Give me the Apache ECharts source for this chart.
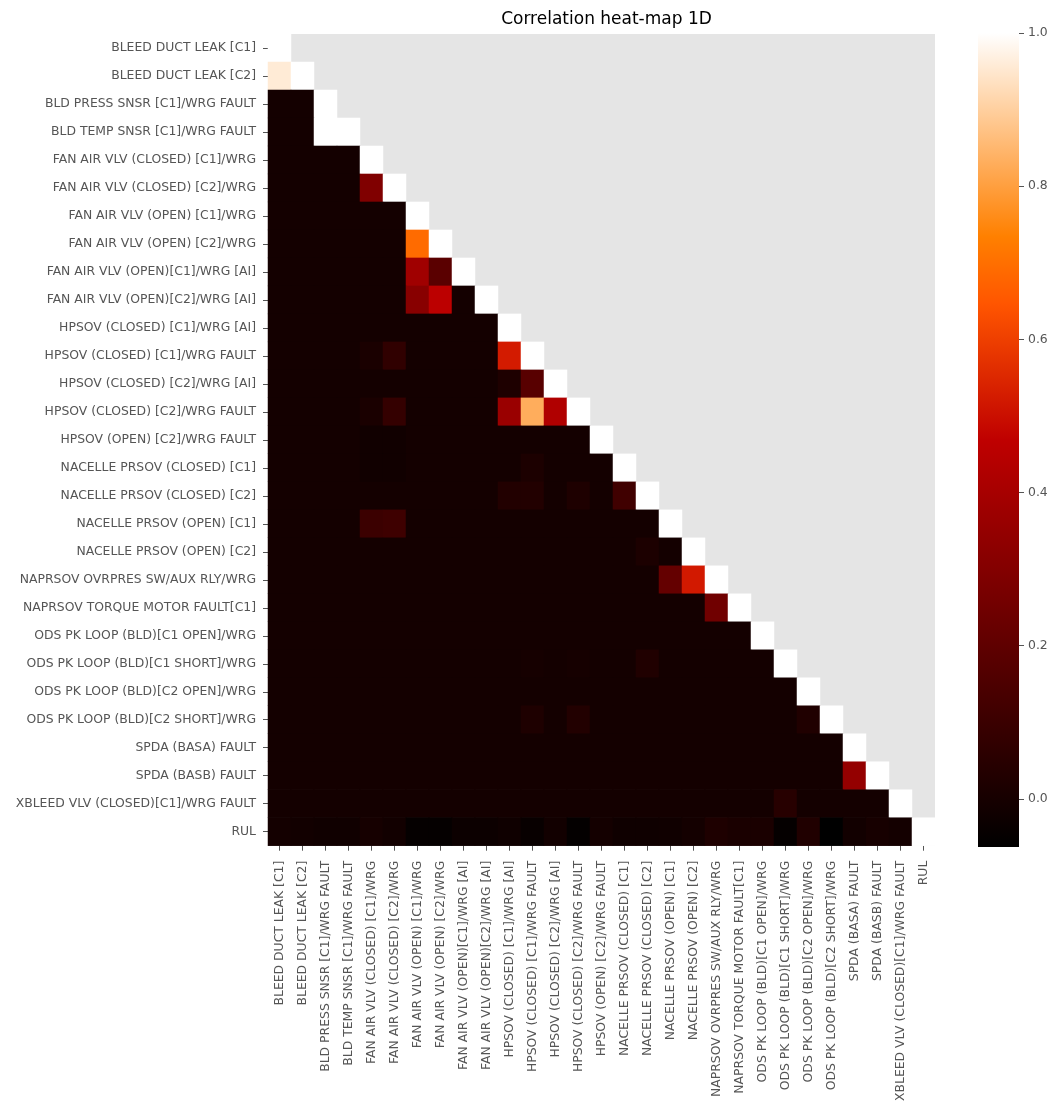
<!DOCTYPE html>
<html>
<head>
<meta charset="utf-8">
<title>Correlation heat-map 1D</title>
<script src="https://cdn.jsdelivr.net/npm/echarts@6/dist/echarts.min.js"></script>
<style>
  html, body { margin: 0; padding: 0; background: #ffffff; }
  #chart { width: 1051px; height: 1104px; }
</style>
</head>
<body>
<div id="chart"></div>
<script>
// Fault labels (rows and columns share the same order)
const categories = [
  'BLEED DUCT LEAK [C1]',
  'BLEED DUCT LEAK [C2]',
  'BLD PRESS SNSR [C1]/WRG FAULT',
  'BLD TEMP SNSR [C1]/WRG FAULT',
  'FAN AIR VLV (CLOSED) [C1]/WRG',
  'FAN AIR VLV (CLOSED) [C2]/WRG',
  'FAN AIR VLV (OPEN) [C1]/WRG',
  'FAN AIR VLV (OPEN) [C2]/WRG',
  'FAN AIR VLV (OPEN)[C1]/WRG [AI]',
  'FAN AIR VLV (OPEN)[C2]/WRG [AI]',
  'HPSOV (CLOSED) [C1]/WRG [AI]',
  'HPSOV (CLOSED) [C1]/WRG FAULT',
  'HPSOV (CLOSED) [C2]/WRG [AI]',
  'HPSOV (CLOSED) [C2]/WRG FAULT',
  'HPSOV (OPEN) [C2]/WRG FAULT',
  'NACELLE PRSOV (CLOSED) [C1]',
  'NACELLE PRSOV (CLOSED) [C2]',
  'NACELLE PRSOV (OPEN) [C1]',
  'NACELLE PRSOV (OPEN) [C2]',
  'NAPRSOV OVRPRES SW/AUX RLY/WRG',
  'NAPRSOV TORQUE MOTOR FAULT[C1]',
  'ODS PK LOOP (BLD)[C1 OPEN]/WRG',
  'ODS PK LOOP (BLD)[C1 SHORT]/WRG',
  'ODS PK LOOP (BLD)[C2 OPEN]/WRG',
  'ODS PK LOOP (BLD)[C2 SHORT]/WRG',
  'SPDA (BASA) FAULT',
  'SPDA (BASB) FAULT',
  'XBLEED VLV (CLOSED)[C1]/WRG FAULT',
  'RUL'
];

// Lower triangle of the correlation matrix, row i holds columns 0..i
const corrRows = [
  [1.000],
  [0.957, 1.000],
  [-0.007, -0.007, 1.000],
  [-0.007, -0.007, 1.000, 1.000],
  [-0.007, -0.007, -0.007, -0.007, 1.000],
  [-0.007, -0.007, -0.007, -0.007, 0.290, 1.000],
  [-0.007, -0.007, -0.007, -0.007, -0.007, -0.007, 1.000],
  [-0.007, -0.007, -0.007, -0.007, -0.007, -0.007, 0.690, 1.000],
  [-0.007, -0.007, -0.007, -0.007, -0.007, -0.007, 0.382, 0.187, 1.000],
  [-0.007, -0.007, -0.007, -0.007, -0.007, -0.007, 0.315, 0.459, -0.007, 1.000],
  [-0.007, -0.007, -0.007, -0.007, -0.007, -0.007, -0.007, -0.007, -0.007, -0.007, 1.000],
  [-0.007, -0.007, -0.007, -0.007, 0.010, 0.070, -0.007, -0.007, -0.007, -0.007, 0.524, 1.000],
  [-0.007, -0.007, -0.007, -0.007, -0.007, -0.007, -0.007, -0.007, -0.007, -0.007, 0.020, 0.181, 1.000],
  [-0.007, -0.007, -0.007, -0.007, 0.010, 0.080, -0.007, -0.007, -0.007, -0.007, 0.365, 0.830, 0.426, 1.000],
  [-0.007, -0.007, -0.007, -0.007, -0.015, -0.015, -0.007, -0.007, -0.007, -0.007, -0.007, -0.007, -0.007, -0.007, 1.000],
  [-0.007, -0.007, -0.007, -0.007, -0.015, -0.015, -0.007, -0.007, -0.007, -0.007, -0.007, 0.015, -0.007, -0.007, -0.007, 1.000],
  [-0.007, -0.007, -0.007, -0.007, -0.007, -0.007, -0.007, -0.007, -0.007, -0.007, 0.030, 0.030, -0.007, 0.020, -0.007, 0.115, 1.000],
  [-0.007, -0.007, -0.007, -0.007, 0.100, 0.110, -0.007, -0.007, -0.007, -0.007, -0.007, -0.007, -0.007, -0.007, -0.007, -0.007, -0.007, 1.000],
  [-0.007, -0.007, -0.007, -0.007, -0.007, -0.007, -0.007, -0.007, -0.007, -0.007, -0.007, -0.007, -0.007, -0.007, -0.007, -0.007, 0.015, -0.007, 1.000],
  [-0.007, -0.007, -0.007, -0.007, -0.007, -0.007, -0.007, -0.007, -0.007, -0.007, -0.007, -0.007, -0.007, -0.007, -0.007, -0.007, -0.007, 0.215, 0.520, 1.000],
  [-0.007, -0.007, -0.007, -0.007, -0.007, -0.007, -0.007, -0.007, -0.007, -0.007, -0.007, -0.007, -0.007, -0.007, -0.007, -0.007, -0.007, -0.007, -0.007, 0.248, 1.000],
  [-0.007, -0.007, -0.007, -0.007, -0.007, -0.007, -0.007, -0.007, -0.007, -0.007, -0.007, -0.007, -0.007, -0.007, -0.007, -0.007, -0.007, -0.007, -0.007, -0.007, -0.007, 1.000],
  [-0.007, -0.007, -0.007, -0.007, -0.007, -0.007, -0.007, -0.007, -0.007, -0.007, -0.007, -0.002, -0.007, -0.002, -0.007, -0.007, 0.026, -0.007, -0.007, -0.007, -0.007, -0.007, 1.000],
  [-0.007, -0.007, -0.007, -0.007, -0.007, -0.007, -0.007, -0.007, -0.007, -0.007, -0.007, -0.007, -0.007, -0.007, -0.007, -0.007, -0.007, -0.007, -0.007, -0.007, -0.007, -0.007, -0.007, 1.000],
  [-0.007, -0.007, -0.007, -0.007, -0.007, -0.007, -0.007, -0.007, -0.007, -0.007, -0.007, 0.020, -0.007, 0.030, -0.007, -0.007, -0.007, -0.007, -0.007, -0.007, -0.007, -0.007, -0.007, 0.026, 1.000],
  [-0.007, -0.007, -0.007, -0.007, -0.007, -0.007, -0.007, -0.007, -0.007, -0.007, -0.007, -0.007, -0.007, -0.007, -0.007, -0.007, -0.007, -0.007, -0.007, -0.007, -0.007, -0.007, -0.007, -0.007, -0.007, 1.000],
  [-0.007, -0.007, -0.007, -0.007, -0.007, -0.007, -0.007, -0.007, -0.007, -0.007, -0.007, -0.007, -0.007, -0.007, -0.007, -0.007, -0.007, -0.007, -0.007, -0.007, -0.007, -0.007, -0.007, -0.007, -0.007, 0.348, 1.000],
  [-0.007, -0.007, -0.007, -0.007, -0.007, -0.007, -0.007, -0.007, -0.007, -0.007, -0.007, -0.007, -0.007, -0.007, -0.007, -0.007, -0.007, -0.007, -0.007, -0.007, -0.007, -0.007, 0.045, -0.007, -0.007, -0.007, -0.007, 1.000],
  [-0.007, -0.013, -0.020, -0.020, -0.003, -0.013, -0.050, -0.050, -0.030, -0.030, -0.022, -0.040, -0.013, -0.052, -0.007, -0.022, -0.022, -0.018, -0.007, 0.020, 0.010, 0.010, -0.048, 0.026, -0.063, -0.013, 0.000, -0.007, 1.000]
];

// Colour bar range and tick labels
const colorMin = -0.063;
const colorMax = 1.0;
const colorbarTicks = [0.0, 0.2, 0.4, 0.6, 0.8, 1.0];

// gist_heat colour ramp sampled at 13 evenly spaced stops
const heatStops = [
  '#000000', '#200000', '#400000', '#600000', '#800000', '#9f0000', '#bf0000',
  '#df2b00', '#ff5500', '#ff8000', '#ffaa55', '#ffd5aa', '#ffffff'
];

const cells = [];
corrRows.forEach((row, i) => {
  row.forEach((v, j) => cells.push([j, i, v]));
});

const FONT = 'DejaVu Sans';
const LABEL_COLOR = '#555555';
const LABEL_SIZE = 12.4;

// whole-pixel cell sizes keep neighbouring cells free of seams
const plot = { left: 268, top: 34, width: 667, height: 812 };
const bar = { left: 978, top: 33, width: 41, height: 814 };

// colour bar fill: same ramp, bottom (min) to top (max)
const barGradient = new echarts.graphic.LinearGradient(0, 1, 0, 0,
  heatStops.map((c, i) => ({ offset: i / (heatStops.length - 1), color: c })));

const chart = echarts.init(document.getElementById('chart'), null, { renderer: 'canvas' });

chart.setOption({
  backgroundColor: '#ffffff',
  animation: false,
  textStyle: { fontFamily: FONT },
  title: {
    text: 'Correlation heat-map 1D',
    left: plot.left + plot.width / 2,
    textAlign: 'center',
    top: 6,
    textStyle: { fontFamily: FONT, fontSize: 17, fontWeight: 'normal', color: '#000000' }
  },
  grid: [
    {
      left: plot.left, top: plot.top, width: plot.width, height: plot.height,
      show: true, backgroundColor: '#e5e5e5', borderWidth: 0
    },
    {
      left: bar.left, top: bar.top, width: bar.width, height: bar.height,
      show: false
    }
  ],
  graphic: [
    {
      type: 'rect',
      silent: true,
      z: 100,
      shape: { x: bar.left, y: bar.top, width: bar.width, height: bar.height },
      style: { fill: barGradient }
    }
  ],
  xAxis: [
    {
      type: 'category',
      data: categories,
      gridIndex: 0,
      position: 'bottom',
      axisLine: { show: false },
      axisTick: { show: true, alignWithLabel: true, length: 5, lineStyle: { color: LABEL_COLOR } },
      axisLabel: {
        rotate: 90, interval: 0, margin: 15,
        color: LABEL_COLOR, fontFamily: FONT, fontSize: LABEL_SIZE
      },
      splitLine: { show: false }
    },
    {
      type: 'value', gridIndex: 1, min: 0, max: 1, show: false
    }
  ],
  yAxis: [
    {
      type: 'category',
      data: categories,
      gridIndex: 0,
      inverse: true,
      axisLine: { show: false },
      axisTick: { show: true, alignWithLabel: true, length: 5, lineStyle: { color: LABEL_COLOR } },
      axisLabel: {
        interval: 0, margin: 12,
        color: LABEL_COLOR, fontFamily: FONT, fontSize: LABEL_SIZE
      },
      splitLine: { show: false }
    },
    {
      type: 'value',
      gridIndex: 1,
      position: 'right',
      min: colorMin,
      max: colorMax,
      axisLine: { show: false, onZero: false },
      splitLine: { show: false },
      minorTick: { show: false },
      axisTick: {
        show: true, inside: false, length: 5, customValues: colorbarTicks,
        lineStyle: { color: LABEL_COLOR }
      },
      axisLabel: {
        show: true, margin: 9, customValues: colorbarTicks,
        color: LABEL_COLOR, fontFamily: FONT, fontSize: LABEL_SIZE,
        formatter: (v) => Number(v).toFixed(1)
      }
    }
  ],
  visualMap: {
    type: 'continuous',
    show: false,
    seriesIndex: 0,
    min: colorMin,
    max: colorMax,
    inRange: { color: heatStops }
  },
  series: [
    {
      type: 'heatmap',
      xAxisIndex: 0,
      yAxisIndex: 0,
      data: cells,
      itemStyle: { borderWidth: 0 },
      emphasis: { disabled: true },
      progressive: 0
    },
    {
      type: 'scatter',
      xAxisIndex: 1,
      yAxisIndex: 1,
      data: [],
      silent: true
    }
  ]
});
</script>
</body>
</html>
